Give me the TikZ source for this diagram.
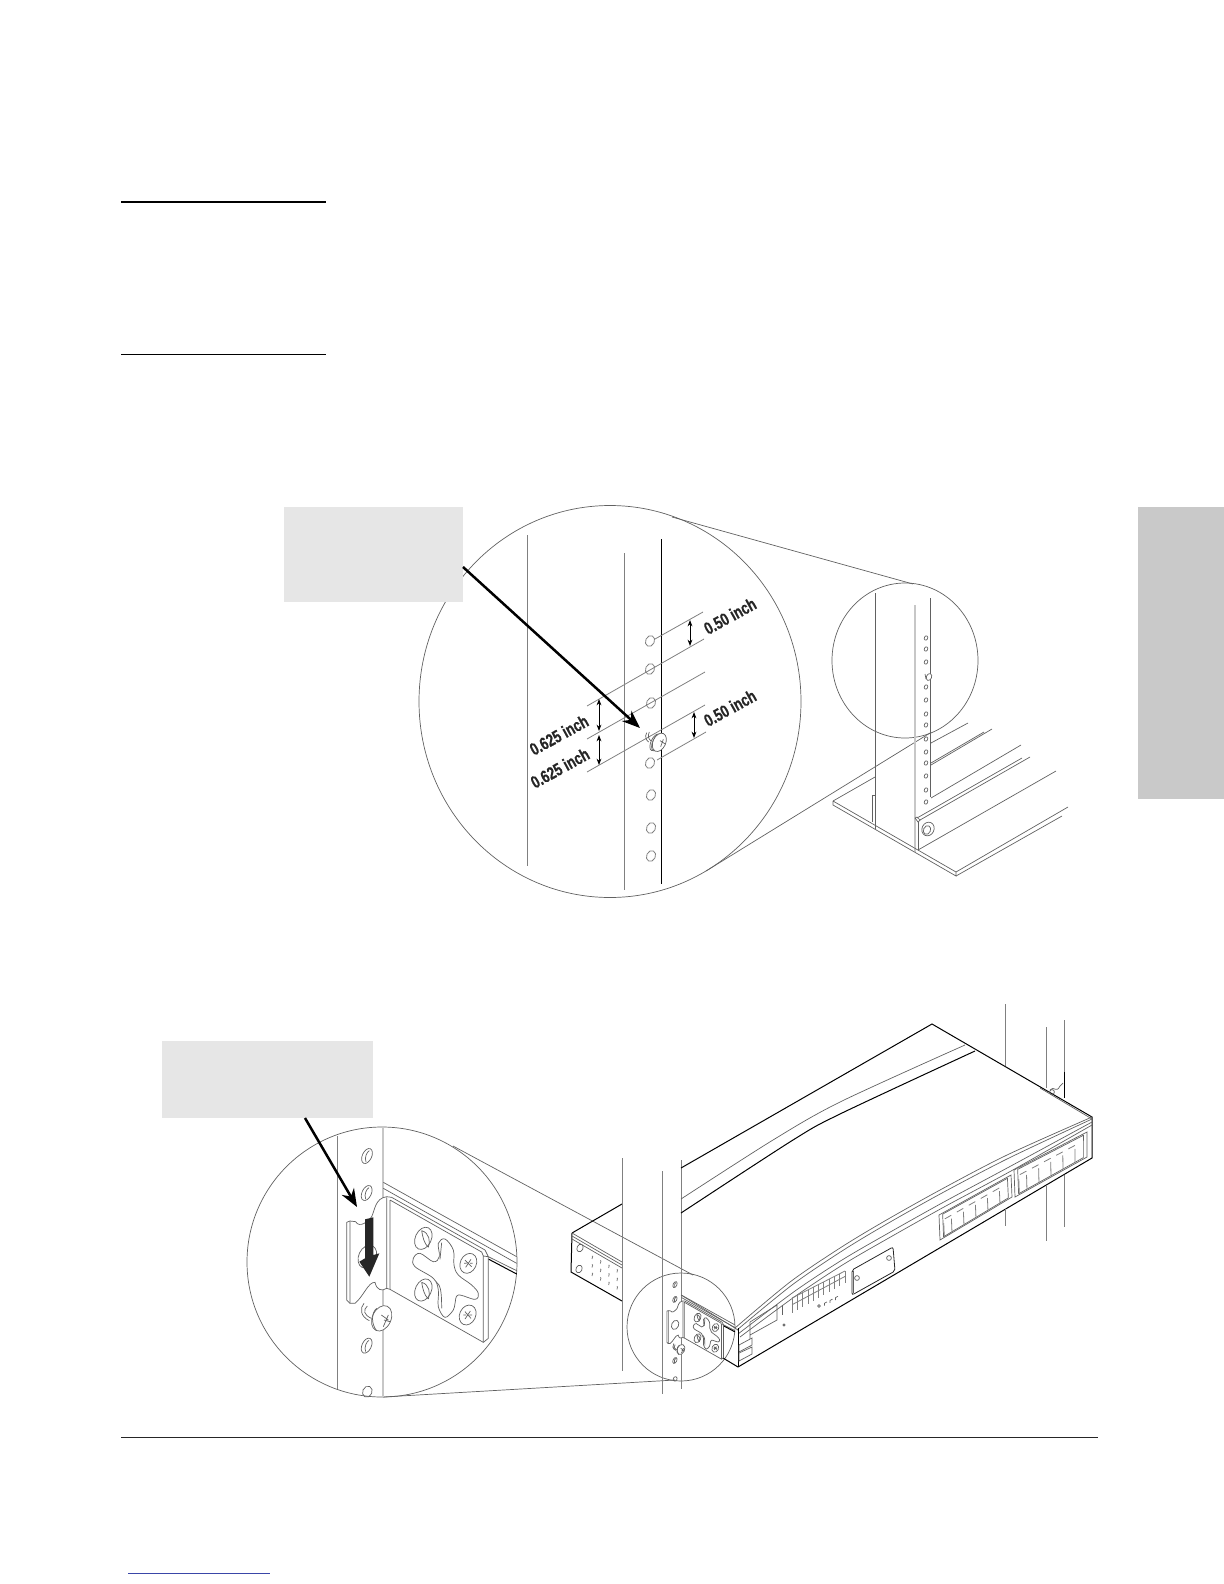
\documentclass[tikz,border=0pt]{standalone}
\usepackage{fontspec}
\usetikzlibrary{arrows.meta,calc}
\newfontfamily\dimfont[FakeStretch=0.75,UprightFont=* Bold,FakeBold=0.5]{Liberation Sans}
\definecolor{tabgray}{HTML}{C9C9C9}
\definecolor{boxgray}{HTML}{E6E6E6}
\definecolor{linkblue}{HTML}{3A46A8}
\tikzset{
 thin line/.style={line width=.35bp,draw=black!62},
 gray line/.style={line width=.4bp,draw=black!50},
 dark line/.style={line width=.5bp,draw=black},
 pale line/.style={line width=.9bp,draw=black!22},
 page rule/.style={line width=.8bp,draw=black},
 callout box/.style={fill=boxgray,draw=none,inner sep=0pt},
 pointer/.style={line width=1.25bp,draw=black,-{Stealth[length=9bp,width=7bp]}},
 dim arrow/.style={line width=.45bp,draw=black,{Stealth[length=3.2bp,width=2.4bp]}-{Stealth[length=3.2bp,width=2.4bp]}},
 dim label/.style={font=\dimfont\fontsize{8.8bp}{9bp}\selectfont,text=black!85,inner sep=0pt,rotate=29},
}
\newcommand{\tiltell}[5]{\path[#1,rotate around={#5:(#2)}] (#2) ellipse [x radius=#3,y radius=#4];}
\newcommand{\rackhole}[1]{\tiltell{gray line,draw,fill=white}{#1}{4.4}{5.6}{-25}}
\newcommand{\tinyhole}[1]{\tiltell{thin line,draw}{#1}{1.7}{2.2}{-25}}
\newcommand{\slothole}[2]{%
 \tiltell{thin line,draw}{#1,#2}{14}{24}{-25}
 \draw[thin line] ($(#1,#2)+(-3,18)$) .. controls ($(#1,#2)+(-9,4)$) and ($(#1,#2)+(1,-14)$) .. ($(#1,#2)+(7,-16)$);
}
% everything of the bracket, in the coordinates of the zoomed detail
\newcommand{\bracketdetail}{%
 \slothole{381}{168}
 \slothole{380}{279}
 \slothole{380}{737}
 \tiltell{thin line,draw}{382,875}{14}{17}{-25}
 \draw[thin line] (430,247)--(830,470) (430,265)--(830,490) (745,470)--(830,512);
 \draw[dark line] (745,477)--(830,522);
 \draw[thin line,fill=white] (440,290)--(455,292)--(735,450)--(745,470)--(745,715)--(730,727)--(450,568)--(440,565)
   .. controls (425,575) and (410,570) .. (405,547) .. controls (385,545) and (370,590) .. (345,610)
   --(330,610)--(320,600)--(320,367)--(330,363)--(347,365)
   .. controls (358,385) and (385,365) .. (395,350) .. controls (405,330) and (405,295) .. (440,290) --cycle;
 \draw[thin line] (330,363)--(330,610) (440,292)--(440,565) (450,300)--(450,568)
   (450,300)--(725,456)--(730,468)--(730,727) (730,468)--(745,470);
 \draw[thin line] plot[smooth cycle,tension=.6] coordinates {(595,430) (615,417) (640,450) (642,495) (655,525) (695,555) (715,580) (705,598) (655,585) (645,610) (640,630) (615,652) (595,620) (595,570) (580,535) (525,500) (520,475) (540,460) (580,485) (598,470)};
 \draw[thin line] (605,428)--(600,478) (588,545) .. controls (600,555) and (605,565) .. (605,625);
 \tiltell{thin line,draw}{550,415}{24}{35}{-25}
 \tiltell{thin line,draw}{550,570}{24}{35}{-25}
 \draw[thin line] (545,392) .. controls (568,398) and (572,425) .. (565,442) (545,392) .. controls (548,410) and (552,430) .. (565,442)
   (545,547) .. controls (568,553) and (572,580) .. (565,597) (545,547) .. controls (548,565) and (552,585) .. (565,597);
 \tiltell{thin line,draw}{685,490}{24}{31}{-25}
 \tiltell{thin line,draw}{683,645}{24}{31}{-25}
 \draw[thin line] (675,480)--(695,500) (693,478)--(677,502) (675,635)--(693,655) (691,633)--(675,657)
   (672,490)--(680,490) (690,490)--(698,490) (670,645)--(678,645) (688,645)--(696,645);
 \tiltell{thin line,draw,fill=white}{382,470}{26}{36}{-25}
 \draw[thin line] (372,610) .. controls (358,625) and (362,650) .. (388,662)
   (382,618) .. controls (368,630) and (372,645) .. (394,655);
 \tiltell{thin line,draw,fill=white}{425,655}{28}{40}{-25}
 \draw[thin line] (410,625) .. controls (392,640) and (395,675) .. (410,692)
   (424,645)--(445,660) (445,645)--(430,680) (432,660)--(450,665);
}
% a panel of ports: corners tl, tr, bl, br
\newcommand{\portpanel}[4]{%
 \draw[thin line] (#1)--(#2)--(#4)--(#3)--cycle;
 \draw[thin line] ($(#1)!.05!(#4)$)--($(#2)!.05!(#3)$)--($(#1)!.95!(#4)$)--($(#2)!.95!(#3)$)--cycle;
 \foreach \k in {1,...,5}{
  \coordinate (pt) at ($(#1)!\k/6!(#2)$);
  \coordinate (pb) at ($(#3)!\k/6!(#4)$);
  \coordinate (pu) at ($(#1)!\k/6-.09!(#2)$);
  \coordinate (pv) at ($(#3)!\k/6-.09!(#4)$);
  \draw[gray line] ($(pt)!.42!(pb)$)--($(pt)!.95!(pb)$);
  \draw[gray line] ($(pt)!.28!(pb)$)--($(pu)!.28!(pv)$);
 }
 \coordinate (pu) at ($(#1)!.06!(#2)$);
 \coordinate (pv) at ($(#3)!.06!(#4)$);
 \draw[gray line] ($(pu)!.42!(pv)$)--($(pu)!.95!(pv)$);
}
\begin{document}
\begin{tikzpicture}[x=.5bp,y=-.5bp]
\useasboundingbox (0,0) rectangle (1224,1584);
% page furniture
\fill[tabgray] (1138,507) rectangle (1224,799);
\coordinate (r1a) at (121,202); \coordinate (r1b) at (326,202);
\coordinate (r2a) at (121,354.5); \coordinate (r2b) at (326,354.5);
\coordinate (r3a) at (121,1437.5); \coordinate (r3b) at (1098,1437.5);
\coordinate (r4a) at (128,1573.5); \coordinate (r4b) at (270,1573.5);
\draw[page rule] (r1a)--(r1b);
\draw[page rule] (r2a)--(r2b);
\draw[line width=.5bp,black!85] (r3a)--(r3b);
\draw[line width=.6bp,linkblue] (r4a)--(r4b);
% ===== figure 1: magnifier
\draw[thin line] (610,701.5) ellipse [x radius=191,y radius=196];
\draw[thin line] (905,660.5) ellipse [x radius=73,y radius=77.5];
\draw[thin line] (672,517)--(913,584);
\draw[thin line] (706,871)--(930,733);
\draw[gray line] (527,535)--(527,866);
\draw[gray line] (624,553)--(624,890);
\draw[dark line] (661.5,539)--(661.5,733) (661.5,747)--(661.5,884);
\rackhole{650,641}\rackhole{650,669}\rackhole{651,703}\rackhole{650,763}\rackhole{651,795}\rackhole{651,828}\rackhole{651,856}
\draw[gray line] (655,639)--(703,612);
\draw[gray line] (587,706)--(704,639);
\draw[gray line] (587,739)--(705,672);
\draw[gray line] (587,772)--(705,705);
\draw[gray line] (657,760)--(706,732);
\coordinate (d1a) at (690,620); \coordinate (d1b) at (690,646);
\coordinate (d2a) at (599,699); \coordinate (d2b) at (599,731);
\coordinate (d3a) at (599,735); \coordinate (d3b) at (599,765);
\coordinate (d4a) at (694,712); \coordinate (d4b) at (694,738);
\draw[dim arrow] (d1a)--(d1b);
\draw[dim arrow] (d2a)--(d2b);
\draw[dim arrow] (d3a)--(d3b);
\draw[dim arrow] (d4a)--(d4b);
\node[dim label] (lab1) at (730,616) {0.50 inch};
\node[dim label] (lab2) at (730,708) {0.50 inch};
\node[dim label] (lab3) at (559,735) {0.625 inch};
\node[dim label] (lab4) at (560,768) {0.625 inch};
% magnified screw
\begin{scope}[shift={(500,570)},scale=1/3]
 \draw[thin line] (440,488) .. controls (434,500) and (438,510) .. (446,516)
   (448,486) .. controls (442,498) and (446,508) .. (454,514);
 \tiltell{thin line,draw,fill=white}{466,517}{13}{27}{-25}
 \tiltell{thin line,draw,fill=white}{472,517}{14}{28}{-25}
 \tiltell{thin line,draw,fill=white}{478,517}{19}{29}{-25}
 \draw[thin line] (480,512)--(496,522) (490,508)--(482,530);
\end{scope}
% ===== figure 1: rack post and rail
\draw[thin line] (875,593)--(875,829);
\draw[pale line] (915,605)--(915,852);
\draw[thin line] (930,598)--(930,797);
\foreach \y in {638,649,662,687,700,714,725,739,752,763,776,790,802}{\tinyhole{926,\y}}
\tiltell{thin line,draw,fill=white}{929,677}{2.6}{3.6}{-25}
\draw[thin line] (925,674)--(926,679);
\draw[thin line] (931,743)--(968,723);
\draw[thin line] (931,763)--(984,732) (931,765)--(992,729);
\draw[thin line] (931,798)--(1021,745) (917,818)--(1022,758) (920,820)--(1030,757);
\draw[thin line] (918,850)--(1056,771);
\draw[thin line] (833,801)--(875,777);
\draw[thin line] (833,801)--(833,805)--(956,876)--(956,872)--(833,801);
\draw[thin line] (956,872)--(1068,807) (956,876)--(1062,816);
\draw[thin line] (872,822)--(872,795)--(875,795);
\draw[thin line] (915,818)--(917,817)--(920,820)--(918,822)--(915,818);
\draw[thin line] (918,822)--(918,850);
\tiltell{thin line,draw}{928,829}{6}{7}{-25}
\tiltell{thin line,draw}{927,830}{3.5}{4.5}{-25}
% callout 1
\node[callout box,minimum width=89.5bp,minimum height=47.5bp] (call1) at (373.5,554.5) {};
\coordinate (p1a) at (463,567); \coordinate (p1b) at (640,728);
\draw[pointer] (p1a)--(p1b);
% ===== figure 2: magnifier
\draw[thin line] (382,1262) circle [radius=135];
\draw[thin line] (681,1327) circle [radius=54];
\draw[thin line] (453,1146)--(693,1275);
\draw[thin line] (383,1397)--(675,1380);
\draw[gray line] (337,1136)--(337,1389);
\draw[pale line] (383,1127)--(383,1397);
\begin{scope}[shift={(240,1100)},scale=1/3]
 \bracketdetail
 \fill[black!85] (375,358)--(400,352)--(400,465)--(418,460)--(388,530)--(358,485)--(375,475)--cycle;
\end{scope}
\node[callout box,minimum width=105.5bp,minimum height=38.5bp] (call2) at (267.5,1079.5) {};
\coordinate (p2a) at (305,1118); \coordinate (p2b) at (357,1207);
\draw[pointer] (p2a)--(p2b);
% ===== figure 2: switch
\draw[dark line] (572,1233)--(622,1204);
\draw[dark line] (572,1233)--(571,1272)--(622,1301);
\draw[thin line] (572,1233)--(622,1262) (572,1236)--(622,1265) (572,1239)--(622,1268);
\tiltell{thin line,draw}{580,1248}{3}{4}{-25}
\tiltell{thin line,draw}{579,1269}{3}{4}{-25}
\foreach \i in {0,1,2,3}{\foreach \j in {0,1,2}{
  \draw[gray line] ({592+8.3*\i},{1259+4.5*\i+8.5*\j}) arc[start angle=60,end angle=-60,radius=1.8];
}}
\draw[gray line] (622,1158)--(622,1371);
\draw[gray line] (662,1171)--(662,1394);
\draw[gray line] (681,1160)--(681,1389);
\draw[dark line] (681,1168)--(932,1024)--(1092,1117)--(1092,1158)--(738,1367);
\draw[thin line] (1040,1088)--(1092,1119);
\draw[thin line] plot[smooth] coordinates {(965,1045) (840,1102) (773,1140) (681,1199)};
\draw[dark line] plot[smooth] coordinates {(975,1051) (840,1114) (793,1140) (681,1213)};
\draw[thin line] plot[smooth] coordinates {(735,1328) (790,1282) (840,1248) (883,1222) (940,1190) (1007,1155) (1092,1117)};
\draw[thin line] plot[smooth] coordinates {(737,1330) (792,1285) (842,1251) (885,1225) (942,1193) (1009,1158) (1092,1119)};
\draw[thin line] plot[smooth] coordinates {(738,1334) (795,1291) (842,1260) (885,1235) (942,1203) (1009,1167) (1092,1122)};
\draw[thin line] plot[smooth] coordinates {(740,1337) (797,1295) (844,1264) (887,1239) (944,1207) (1011,1171) (1092,1125)};
\draw[thin line] (681,1295)--(735,1328) (735,1328)--(738,1330);
\draw[dark line] (738,1328)--(738,1367);
\draw[dark line] (723,1358)--(738,1367);
\draw[thin line] (750,1322)--(777,1305)--(777,1320)--(750,1335) (750,1322)--(750,1347);
\draw[thin line] (782,1305)--(782,1315);
\draw[thin line] (784,1325) circle [radius=1.2];
\draw[thin line,fill=white] (739,1345)--(752,1338)--(752,1345)--(739,1352)--cycle;
\draw[thin line,fill=white] (739,1353)--(752,1347)--(752,1354)--(739,1361)--cycle;
% LEDs
\coordinate (lt) at (792,1298); \coordinate (ltr) at (845,1271);
\coordinate (lb) at (792,1313); \coordinate (lbr) at (845,1283);
\foreach \k in {0,...,10}{\draw[gray line] ($(lt)!\k/10!(ltr)$)--($(lb)!\k/10!(lbr)$);}
\draw[gray line] (lt)--(ltr);
\draw[gray line] ($(lt)!.45!(lb)$)--($(ltr)!.45!(lbr)$);
\draw[thin line] (819,1306) circle [radius=1.4];
\foreach \k in {1,2,3}{\draw[thin line] ({819+5.5*\k},{1306-2.8*\k}) -- ++(2.5,-1.3) ({819+5.5*\k},{1306-2.8*\k}) -- ++(0,2.5);}
% label plate
\coordinate (pa) at (852,1270); \coordinate (pb) at (893,1247);
\coordinate (pc) at (852,1295); \coordinate (pd) at (895,1271);
\draw[line width=.4bp,black!85,rounded corners=1bp] (pa)--(pb)--(pd)--(pc)--cycle;
\draw[thin line] (853.5,1271)--(853.5,1293);
\draw[thin line] (857,1278) circle [radius=2.4];
\draw[thin line] (889,1258) circle [radius=2.4];
% ports
\coordinate (a1) at (939,1215); \coordinate (a2) at (1011,1175); \coordinate (a3) at (940,1240); \coordinate (a4) at (1012,1197);
\portpanel{a1}{a2}{a3}{a4}
\coordinate (b1) at (1014,1170); \coordinate (b2) at (1087,1132); \coordinate (b3) at (1015,1197); \coordinate (b4) at (1087,1157);
\portpanel{b1}{b2}{b3}{b4}
% far rack
\draw[gray line] (1005,1004)--(1005,1066) (1005,1208)--(1005,1226);
\draw[gray line] (1046,1027)--(1046,1088) (1046,1185)--(1046,1241);
\draw[gray line] (1064,1020)--(1064,1072);
\draw[dark line] (1064,1072)--(1064,1098);
\draw[gray line] (1064,1175)--(1064,1227);
\draw[thin line] (1050,1090) .. controls (1054,1085) and (1056,1094) .. (1060,1086) -- (1063,1083);
\draw[thin line] (1052,1092) circle [radius=2.4];
% miniature bracket inside the small circle
\begin{scope}[shift={(624.2,1262.2)},scale=.13333]
 \bracketdetail
\end{scope}
\end{tikzpicture}
\end{document}
